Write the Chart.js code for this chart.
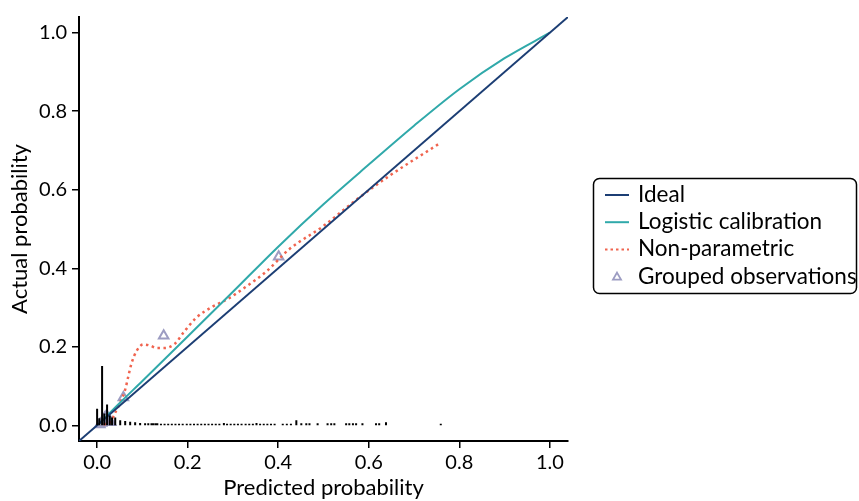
<!DOCTYPE html>
<html>
<head>
<meta charset="utf-8">
<title>Calibration plot</title>
<script src="https://cdn.jsdelivr.net/npm/chart.js@4.4.1/dist/chart.umd.min.js"></script>
<style>
  html, body { margin: 0; padding: 0; background: #fff; }
  #wrap { width: 859px; height: 501px; }
</style>
</head>
<body>
<div id="wrap"><canvas id="calib" width="859" height="501"></canvas></div>
<script>
// axis ticks
const tickValues = [0, 0.2, 0.4, 0.6, 0.8, 1.0];
const tickLabels = ["0.0", "0.2", "0.4", "0.6", "0.8", "1.0"];

// ideal line (corner to corner)
const idealX = [-0.04, 1.04];
const idealY = [-0.04, 1.04];

// logistic calibration curve
const logisticX = [0.005, 0.05, 0.1, 0.2, 0.3, 0.4, 0.5, 0.6, 0.7, 0.8, 0.9, 1.0];
const logisticY = [0.005, 0.057, 0.113, 0.226, 0.34, 0.455, 0.563, 0.664, 0.763, 0.856, 0.935, 1.0];

// non-parametric (loess) curve
const smoothX = [0.014, 0.029, 0.04, 0.051, 0.062, 0.069, 0.076, 0.087, 0.102, 0.117, 0.131, 0.15, 0.172, 0.19, 0.219, 0.256, 0.286, 0.33, 0.374, 0.425, 0.498, 0.572, 0.645, 0.755];
const smoothY = [0.002, 0.008, 0.032, 0.058, 0.091, 0.125, 0.158, 0.189, 0.206, 0.203, 0.197, 0.197, 0.208, 0.235, 0.274, 0.303, 0.32, 0.354, 0.392, 0.449, 0.506, 0.574, 0.635, 0.717];

// grouped observations (deciles)
const groupX = [0.006, 0.01, 0.013, 0.017, 0.021, 0.025, 0.03, 0.058, 0.147, 0.401];
const groupY = [0.002, 0.006, 0.013, 0.019, 0.025, 0.012, 0.008, 0.071, 0.228, 0.429];

// spike histogram of predicted probabilities: [x, height]
const spikeBins = [
  [0.000, 0.042], [0.005, 0.018], [0.011, 0.151], [0.016, 0.03], [0.022, 0.053],
  [0.028, 0.025], [0.033, 0.02], [0.040, 0.02], [0.051, 0.013], [0.062, 0.011],
  [0.073, 0.009], [0.084, 0.008], [0.095, 0.006], [0.106, 0.005], [0.113, 0.005],
  [0.120, 0.005], [0.124, 0.005], [0.129, 0.005], [0.133, 0.005], [0.141, 0.004],
  [0.149, 0.004], [0.157, 0.004], [0.165, 0.004], [0.173, 0.004], [0.181, 0.004],
  [0.189, 0.004], [0.198, 0.004], [0.206, 0.004], [0.214, 0.004], [0.222, 0.004],
  [0.230, 0.004], [0.238, 0.004], [0.246, 0.004], [0.254, 0.004], [0.262, 0.004],
  [0.270, 0.004], [0.280, 0.006], [0.287, 0.004], [0.295, 0.004], [0.303, 0.004],
  [0.311, 0.004], [0.319, 0.004], [0.328, 0.004], [0.336, 0.004], [0.344, 0.004],
  [0.352, 0.006], [0.360, 0.004], [0.368, 0.004], [0.376, 0.004], [0.384, 0.004],
  [0.392, 0.004], [0.410, 0.004], [0.419, 0.004], [0.428, 0.004], [0.440, 0.013],
  [0.451, 0.005], [0.462, 0.005], [0.469, 0.005], [0.487, 0.005], [0.509, 0.005],
  [0.517, 0.005], [0.524, 0.005], [0.550, 0.005], [0.557, 0.005], [0.565, 0.005],
  [0.572, 0.005], [0.586, 0.005], [0.616, 0.005], [0.623, 0.005], [0.638, 0.008],
  [0.759, 0.004]
];

const legendNames = ["Ideal", "Logistic calibration", "Non-parametric", "Grouped observations"];

const NAVY = "#1c3e74";
const TEAL = "#30a9aa";
const RED = "#f0644f";
const LAVENDER = "#9c9cc2";

function toPoints(xs, ys) {
  return xs.map((x, i) => ({ x: x, y: ys[i] }));
}

// each spike is a vertical segment, separated by a gap point
function spikePoints(bins) {
  let pts = [];
  bins.forEach(b => {
    pts.push({ x: b[0], y: 0 });
    pts.push({ x: b[0], y: b[1] });
    pts.push({ x: b[0], y: null });
  });
  return pts;
}

// boxed legend to the right of the plot
const boxLegend = {
  id: "boxLegend",
  afterDraw(chart) {
    const c = chart.ctx;
    c.save();
    c.beginPath();
    c.roundRect(593.5, 178.5, 263, 115, 6);
    c.lineWidth = 1.5;
    c.strokeStyle = "#000";
    c.stroke();

    const rows = [202, 229.2, 256.4, 283.6];
    c.font = "22.5px Lato";
    c.fillStyle = "#000";
    c.textBaseline = "alphabetic";
    legendNames.forEach((name, i) => {
      const y = rows[i] - 7;
      c.save();
      if (i < 3) {
        c.beginPath();
        c.moveTo(605, y);
        c.lineTo(629, y);
        c.lineWidth = 2;
        c.strokeStyle = [NAVY, TEAL, RED][i];
        if (i == 2) c.setLineDash([2.5, 3]);
        c.stroke();
      } else {
        c.beginPath();
        c.moveTo(617, y - 4);
        c.lineTo(621, y + 3);
        c.lineTo(613, y + 3);
        c.closePath();
        c.lineWidth = 1.8;
        c.strokeStyle = LAVENDER;
        c.stroke();
      }
      c.restore();
      c.fillText(name, 638, rows[i]);
    });
    c.restore();
  }
};

const tickFont = { family: "Lato", size: 20 };
const titleFont = { family: "Lato", size: 22 };

const ctx = document.getElementById("calib").getContext("2d");
new Chart(ctx, {
  type: "scatter",
  data: {
    datasets: [
      {
        label: "spikes",
        data: spikePoints(spikeBins),
        showLine: true,
        spanGaps: false,
        borderColor: "#000",
        borderWidth: 2,
        pointRadius: 0
      },
      {
        label: legendNames[0],
        data: toPoints(idealX, idealY),
        showLine: true,
        borderColor: NAVY,
        borderWidth: 2,
        pointRadius: 0
      },
      {
        label: legendNames[1],
        data: toPoints(logisticX, logisticY),
        showLine: true,
        borderColor: TEAL,
        borderWidth: 2,
        pointRadius: 0,
        cubicInterpolationMode: "monotone"
      },
      {
        label: legendNames[2],
        data: toPoints(smoothX, smoothY),
        showLine: true,
        borderColor: RED,
        borderWidth: 2.5,
        borderDash: [2.5, 3.5],
        pointRadius: 0,
        cubicInterpolationMode: "monotone"
      },
      {
        label: legendNames[3],
        data: toPoints(groupX, groupY),
        showLine: false,
        pointStyle: "triangle",
        pointRadius: 5.5,
        pointBorderWidth: 2,
        pointBorderColor: LAVENDER,
        pointBackgroundColor: "rgba(0,0,0,0)"
      }
    ]
  },
  options: {
    responsive: false,
    animation: false,
    layout: { padding: { top: 17, right: 291, left: 0, bottom: 0 } },
    plugins: {
      legend: { display: false },
      tooltip: { enabled: false }
    },
    scales: {
      x: {
        type: "linear",
        min: -0.04,
        max: 1.04,
        afterBuildTicks: s => { s.ticks = tickValues.map(v => ({ value: v })); },
        afterFit: s => { s.height = 60; },
        ticks: {
          callback: (v, i) => tickLabels[i],
          font: tickFont,
          color: "#000",
          padding: 3,
          maxRotation: 0
        },
        grid: { drawOnChartArea: false, tickLength: 7, lineWidth: 1.5, color: "#000" },
        border: { color: "#000", width: 2 },
        title: {
          display: true,
          text: "Predicted probability",
          font: titleFont,
          color: "#000",
          padding: { top: 0, bottom: 0 }
        }
      },
      y: {
        type: "linear",
        min: -0.04,
        max: 1.04,
        afterBuildTicks: s => { s.ticks = tickValues.map(v => ({ value: v })); },
        afterFit: s => { s.width = 79; },
        ticks: {
          callback: (v, i) => tickLabels[i],
          font: tickFont,
          color: "#000",
          padding: 5
        },
        grid: { drawOnChartArea: false, tickLength: 7, lineWidth: 1.5, color: "#000" },
        border: { color: "#000", width: 2 },
        title: {
          display: true,
          text: "Actual probability",
          font: titleFont,
          color: "#000",
          padding: { top: 7, bottom: 0 }
        }
      }
    }
  },
  plugins: [boxLegend]
});
</script>
</body>
</html>
